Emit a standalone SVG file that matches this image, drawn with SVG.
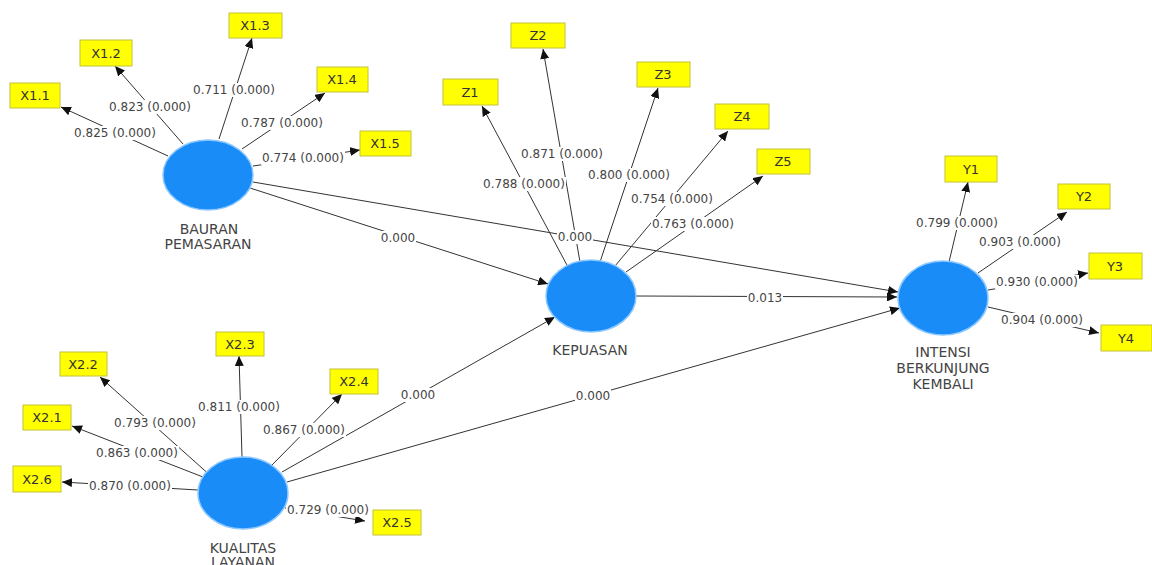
<svg xmlns="http://www.w3.org/2000/svg" width="1152" height="565" viewBox="0 0 1152 565">
<style>
.bg{fill:#ffffff}
.lv{fill:#1a8cf8;stroke:#8cc8ff;stroke-width:1.5}
.ind{fill:#ffff00;stroke:#c2c23a;stroke-width:1}
.it{font-family:"DejaVu Sans",sans-serif;font-size:13px;fill:#333333;text-anchor:middle}
.lt{font-family:"DejaVu Sans",sans-serif;font-size:14px;fill:#444444;text-anchor:middle}
.el{stroke:#333333;stroke-width:1;fill:none}
.nl{font-family:"DejaVu Sans",sans-serif;font-size:12px;fill:#444444;text-anchor:middle}
.lb{fill:#ffffff}
</style>
<defs>
<marker id="ah" markerUnits="userSpaceOnUse" markerWidth="11" markerHeight="9" refX="10" refY="4.5" orient="auto">
<path d="M0,0 L10,4.5 L0,9 z" fill="#111111"/>
</marker>
</defs>
<rect class="bg" x="0" y="0" width="1152" height="565"/>
<g id="connectors">
<!-- BAURAN indicators -->
<line class="el" x1="168" y1="156" x2="61" y2="107" marker-end="url(#ah)"/>
<line class="el" x1="183" y1="144" x2="115" y2="66" marker-end="url(#ah)"/>
<line class="el" x1="219" y1="139" x2="252" y2="38" marker-end="url(#ah)"/>
<line class="el" x1="242" y1="149" x2="325" y2="93" marker-end="url(#ah)"/>
<line class="el" x1="253" y1="166" x2="360" y2="150" marker-end="url(#ah)"/>
<!-- KEPUASAN indicators -->
<line class="el" x1="568" y1="267" x2="482" y2="106" marker-end="url(#ah)"/>
<line class="el" x1="580" y1="262" x2="543" y2="49" marker-end="url(#ah)"/>
<line class="el" x1="600" y1="262" x2="658" y2="88" marker-end="url(#ah)"/>
<line class="el" x1="615" y1="266" x2="728" y2="131" marker-end="url(#ah)"/>
<line class="el" x1="626" y1="272" x2="763" y2="176" marker-end="url(#ah)"/>
<!-- INTENSI indicators -->
<line class="el" x1="949" y1="262" x2="968" y2="182" marker-end="url(#ah)"/>
<line class="el" x1="978" y1="273" x2="1067" y2="212" marker-end="url(#ah)"/>
<line class="el" x1="988" y1="290" x2="1088" y2="273" marker-end="url(#ah)"/>
<line class="el" x1="988" y1="307" x2="1099" y2="333" marker-end="url(#ah)"/>
<!-- KUALITAS indicators -->
<line class="el" x1="242" y1="457" x2="239" y2="356" marker-end="url(#ah)"/>
<line class="el" x1="212" y1="477" x2="100" y2="377" marker-end="url(#ah)"/>
<line class="el" x1="272" y1="465" x2="342" y2="394" marker-end="url(#ah)"/>
<line class="el" x1="203" y1="477" x2="72" y2="426" marker-end="url(#ah)"/>
<line class="el" x1="198" y1="490" x2="62" y2="482" marker-end="url(#ah)"/>
<line class="el" x1="285" y1="508" x2="365" y2="521" marker-end="url(#ah)"/>
<!-- structural paths -->
<line class="el" x1="250" y1="188" x2="548" y2="284" marker-end="url(#ah)"/>
<line class="el" x1="253" y1="182" x2="898" y2="292" marker-end="url(#ah)"/>
<line class="el" x1="636" y1="296" x2="897" y2="297" marker-end="url(#ah)"/>
<line class="el" x1="282" y1="472" x2="555" y2="317" marker-end="url(#ah)"/>
<line class="el" x1="287" y1="482" x2="900" y2="308" marker-end="url(#ah)"/>
<!-- label backgrounds -->
<rect class="lb" x="73" y="126" width="84" height="14"/>
<rect class="lb" x="108" y="100" width="84" height="14"/>
<rect class="lb" x="192" y="83" width="84" height="14"/>
<rect class="lb" x="240" y="116" width="84" height="14"/>
<rect class="lb" x="261" y="151" width="84" height="14"/>
<rect class="lb" x="482" y="177" width="84" height="14"/>
<rect class="lb" x="520" y="147" width="84" height="14"/>
<rect class="lb" x="587" y="168" width="84" height="14"/>
<rect class="lb" x="630" y="192" width="84" height="14"/>
<rect class="lb" x="651" y="217" width="84" height="14"/>
<rect class="lb" x="915" y="216" width="84" height="14"/>
<rect class="lb" x="978" y="235" width="84" height="14"/>
<rect class="lb" x="995" y="275" width="84" height="14"/>
<rect class="lb" x="1000" y="313" width="84" height="14"/>
<rect class="lb" x="197" y="400" width="84" height="14"/>
<rect class="lb" x="113" y="416" width="84" height="14"/>
<rect class="lb" x="262" y="423" width="84" height="14"/>
<rect class="lb" x="95" y="446" width="84" height="14"/>
<rect class="lb" x="88" y="479" width="84" height="14"/>
<rect class="lb" x="286" y="503" width="84" height="14"/>
<rect class="lb" x="380" y="231" width="36" height="14"/>
<rect class="lb" x="557" y="230" width="36" height="14"/>
<rect class="lb" x="747" y="291" width="36" height="14"/>
<rect class="lb" x="400" y="388" width="36" height="14"/>
<rect class="lb" x="575" y="389" width="36" height="14"/>
<!-- labels -->
<text class="nl" x="115" y="137">0.825 (0.000)</text>
<text class="nl" x="150" y="111">0.823 (0.000)</text>
<text class="nl" x="234" y="94">0.711 (0.000)</text>
<text class="nl" x="282" y="127">0.787 (0.000)</text>
<text class="nl" x="303" y="162">0.774 (0.000)</text>
<text class="nl" x="524" y="188">0.788 (0.000)</text>
<text class="nl" x="562" y="158">0.871 (0.000)</text>
<text class="nl" x="629" y="179">0.800 (0.000)</text>
<text class="nl" x="672" y="203">0.754 (0.000)</text>
<text class="nl" x="693" y="228">0.763 (0.000)</text>
<text class="nl" x="957" y="227">0.799 (0.000)</text>
<text class="nl" x="1020" y="246">0.903 (0.000)</text>
<text class="nl" x="1037" y="286">0.930 (0.000)</text>
<text class="nl" x="1042" y="324">0.904 (0.000)</text>
<text class="nl" x="239" y="411">0.811 (0.000)</text>
<text class="nl" x="155" y="427">0.793 (0.000)</text>
<text class="nl" x="304" y="434">0.867 (0.000)</text>
<text class="nl" x="137" y="457">0.863 (0.000)</text>
<text class="nl" x="130" y="490">0.870 (0.000)</text>
<text class="nl" x="328" y="514">0.729 (0.000)</text>
<text class="nl" x="398" y="242">0.000</text>
<text class="nl" x="575" y="241">0.000</text>
<text class="nl" x="765" y="302">0.013</text>
<text class="nl" x="418" y="399">0.000</text>
<text class="nl" x="593" y="400">0.000</text>
</g>
<g id="bauran">
<ellipse class="lv" cx="208" cy="175" rx="45" ry="35"/>
<text class="lt" x="209" y="234">BAURAN</text>
<text class="lt" x="208" y="249">PEMASARAN</text>
</g>
<g id="kepuasan">
<ellipse class="lv" cx="591" cy="296" rx="45" ry="36"/>
<text class="lt" x="590" y="355">KEPUASAN</text>
</g>
<g id="intensi">
<ellipse class="lv" cx="943" cy="298" rx="45" ry="37"/>
<text class="lt" x="943" y="357">INTENSI</text>
<text class="lt" x="943" y="373">BERKUNJUNG</text>
<text class="lt" x="943" y="389">KEMBALI</text>
</g>
<g id="kualitas">
<ellipse class="lv" cx="243" cy="493" rx="45" ry="36"/>
<text class="lt" x="243" y="553">KUALITAS</text>
<text class="lt" x="243" y="567">LAYANAN</text>
</g>
<g id="x1_1"><rect class="ind" x="10" y="83" width="50" height="25"/><text class="it" x="35" y="100">X1.1</text></g>
<g id="x1_2"><rect class="ind" x="80" y="40" width="52" height="26"/><text class="it" x="106" y="58">X1.2</text></g>
<g id="x1_3"><rect class="ind" x="229" y="13" width="53" height="25"/><text class="it" x="255" y="30">X1.3</text></g>
<g id="x1_4"><rect class="ind" x="317" y="67" width="51" height="25"/><text class="it" x="342" y="84">X1.4</text></g>
<g id="x1_5"><rect class="ind" x="360" y="131" width="51" height="25"/><text class="it" x="385" y="148">X1.5</text></g>
<g id="z1"><rect class="ind" x="443" y="79" width="55" height="26"/><text class="it" x="470" y="97">Z1</text></g>
<g id="z2"><rect class="ind" x="511" y="23" width="54" height="25"/><text class="it" x="538" y="40">Z2</text></g>
<g id="z3"><rect class="ind" x="637" y="62" width="53" height="25"/><text class="it" x="663" y="79">Z3</text></g>
<g id="z4"><rect class="ind" x="715" y="104" width="54" height="25"/><text class="it" x="742" y="121">Z4</text></g>
<g id="z5"><rect class="ind" x="757" y="149" width="53" height="25"/><text class="it" x="783" y="166">Z5</text></g>
<g id="y1"><rect class="ind" x="945" y="156" width="52" height="26"/><text class="it" x="971" y="174">Y1</text></g>
<g id="y2"><rect class="ind" x="1058" y="184" width="52" height="25"/><text class="it" x="1084" y="201">Y2</text></g>
<g id="y3"><rect class="ind" x="1089" y="253" width="53" height="26"/><text class="it" x="1115" y="271">Y3</text></g>
<g id="y4"><rect class="ind" x="1101" y="325" width="51" height="26"/><text class="it" x="1126" y="343">Y4</text></g>
<g id="x2_3"><rect class="ind" x="216" y="332" width="48" height="24"/><text class="it" x="240" y="349">X2.3</text></g>
<g id="x2_2"><rect class="ind" x="60" y="352" width="47" height="24"/><text class="it" x="83" y="369">X2.2</text></g>
<g id="x2_4"><rect class="ind" x="330" y="369" width="48" height="25"/><text class="it" x="354" y="386">X2.4</text></g>
<g id="x2_1"><rect class="ind" x="23" y="405" width="48" height="25"/><text class="it" x="47" y="422">X2.1</text></g>
<g id="x2_6"><rect class="ind" x="13" y="466" width="48" height="26"/><text class="it" x="37" y="484">X2.6</text></g>
<g id="x2_5"><rect class="ind" x="373" y="510" width="48" height="25"/><text class="it" x="397" y="527">X2.5</text></g>
</svg>
